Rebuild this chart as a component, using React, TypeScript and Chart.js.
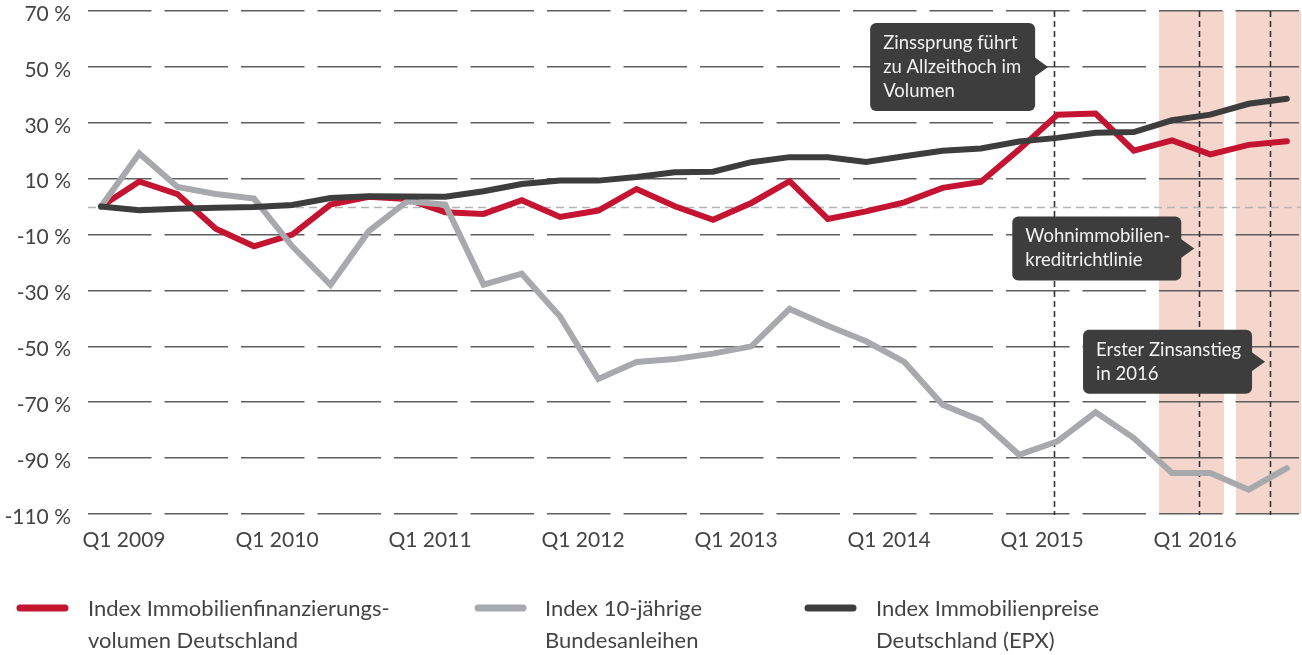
import React, { useEffect, useRef } from "react";
import { Chart, registerables } from "chart.js";

Chart.register(...registerables);

const quarters = [
  "Q1 2009", "Q2 2009", "Q3 2009", "Q4 2009",
  "Q1 2010", "Q2 2010", "Q3 2010", "Q4 2010",
  "Q1 2011", "Q2 2011", "Q3 2011", "Q4 2011",
  "Q1 2012", "Q2 2012", "Q3 2012", "Q4 2012",
  "Q1 2013", "Q2 2013", "Q3 2013", "Q4 2013",
  "Q1 2014", "Q2 2014", "Q3 2014", "Q4 2014",
  "Q1 2015", "Q2 2015", "Q3 2015", "Q4 2015",
  "Q1 2016", "Q2 2016", "Q3 2016", "Q4 2016",
];

const volumeIndex = [
  0, 9, 4.5, -7.9, -14.2, -10, 0.7, 3.5, 2.7, -2, -2.6, 2.3, -3.7, -1.4, 6.3, 0.1,
  -4.7, 1.3, 9.1, -4.4, -1.7, 1.5, 6.7, 8.8, 20.4, 32.9, 33.3, 20, 23.7, 18.7, 22.1, 23.4,
];
const bondIndex = [
  0, 19, 7, 4.5, 2.9, -14.2, -28, -8.8, 1.9, 0.7, -27.9, -24, -39.3, -61.7, -55.6, -54.5,
  -52.6, -50, -36.6, -42.6, -48.2, -55.6, -70.9, -76.5, -88.8, -84, -73.6, -82.8, -95.3, -95.3, -101.3, -93.6,
];
const priceIndex = [
  0, -1.3, -0.8, -0.4, -0.1, 0.6, 3.1, 3.7, 3.6, 3.5, 5.5, 8.1, 9.3, 9.3, 10.6, 12.3,
  12.5, 15.9, 17.7, 17.7, 16, 18, 20, 20.8, 23.3, 24.6, 26.4, 26.7, 30.9, 32.9, 36.8, 38.6,
];

const xTickLabels = ["Q1 2009", "Q1 2010", "Q1 2011", "Q1 2012", "Q1 2013", "Q1 2014", "Q1 2015", "Q1 2016"];
const yTickValues = [70, 50, 30, 10, -10, -30, -50, -70, -90, -110];

const seriesNames = [
  ["Index Immobilienfinanzierungs-", "volumen Deutschland"],
  ["Index 10-jährige", "Bundesanleihen"],
  ["Index Immobilienpreise", "Deutschland (EPX)"],
];
const seriesColors = ["#c51431", "#a8a9ac", "#3d3d3d"];

// event markers (x in quarter index units)
const markerLines = [24.92, 28.71, 30.56];
const highlightBands = [
  [27.66, 29.36],
  [29.67, 31.37],
];
const callouts = [
  { lines: ["Zinssprung führt", "zu Allzeithoch im", "Volumen"], tipX: 24.76, tipY: 50, width: 165 },
  { lines: ["Wohnimmobilien-", "kreditrichtlinie"], tipX: 28.58, tipY: -15, width: 169 },
  { lines: ["Erster Zinsanstieg", "in 2016"], tipX: 30.43, tipY: -55.5, width: 169 },
];

const FONT = "Lato";
const TEXT_COLOR = "#444444";

const decorPlugin = {
  id: "decor",
  beforeDraw(chart: any) {
    const { ctx, chartArea, scales } = chart;
    const xs = scales.x;
    ctx.save();
    ctx.fillStyle = "#f5d6cc";
    for (const [a, b] of highlightBands) {
      const x1 = xs.getPixelForValue(a);
      const x2 = Math.min(xs.getPixelForValue(b), chartArea.right);
      ctx.fillRect(x1, chartArea.top, x2 - x1, chartArea.bottom - chartArea.top);
    }
    ctx.restore();
  },
  beforeDatasetsDraw(chart: any) {
    const { ctx, chartArea, scales } = chart;
    const xs = scales.x;
    const ys = scales.y;
    ctx.save();
    ctx.strokeStyle = "#b3b3b3";
    ctx.lineWidth = 1.5;
    ctx.setLineDash([8, 5]);
    const y0 = Math.round(ys.getPixelForValue(0)) + 0.5;
    ctx.beginPath();
    ctx.moveTo(chartArea.left, y0);
    ctx.lineTo(chartArea.right, y0);
    ctx.stroke();
    ctx.strokeStyle = "#333333";
    ctx.lineWidth = 1.6;
    ctx.setLineDash([6, 4]);
    for (const m of markerLines) {
      const x = Math.round(xs.getPixelForValue(m)) + 0.5;
      ctx.beginPath();
      ctx.moveTo(x, chartArea.top);
      ctx.lineTo(x, chartArea.bottom + 1);
      ctx.stroke();
    }
    ctx.restore();
  },
  afterDatasetsDraw(chart: any) {
    const { ctx, scales } = chart;
    const xs = scales.x;
    const ys = scales.y;
    ctx.save();
    ctx.font = `18.5px ${FONT}`;
    ctx.textBaseline = "middle";
    ctx.textAlign = "left";
    for (const c of callouts) {
      const tipX = xs.getPixelForValue(c.tipX);
      const tipY = ys.getPixelForValue(c.tipY);
      const lineH = 24;
      const h = 19 * 2 + (c.lines.length - 1) * lineH + 2;
      const right = tipX - 13;
      const left = right - c.width;
      const top = tipY - h / 2;
      ctx.fillStyle = "#3d3d3d";
      ctx.beginPath();
      ctx.roundRect(left, top, c.width, h, 6);
      ctx.fill();
      ctx.beginPath();
      ctx.moveTo(right - 1, tipY - 10);
      ctx.lineTo(tipX, tipY);
      ctx.lineTo(right - 1, tipY + 10);
      ctx.closePath();
      ctx.fill();
      ctx.fillStyle = "#f2f2f2";
      c.lines.forEach((t, i) => {
        ctx.fillText(t, left + 13, top + 20 + i * lineH);
      });
    }
    ctx.restore();
  },
  afterDraw(chart: any) {
    const { ctx } = chart;
    const sampleX = [20, 478, 808];
    const textX = [88, 545, 876];
    ctx.save();
    ctx.font = `22px ${FONT}`;
    ctx.textBaseline = "middle";
    ctx.textAlign = "left";
    seriesNames.forEach((lines, i) => {
      ctx.strokeStyle = seriesColors[i];
      ctx.lineWidth = 7;
      ctx.lineCap = "round";
      ctx.beginPath();
      ctx.moveTo(sampleX[i], 608);
      ctx.lineTo(sampleX[i] + 45, 608);
      ctx.stroke();
      ctx.fillStyle = TEXT_COLOR;
      lines.forEach((t, j) => ctx.fillText(t, textX[i], 609 + j * 32));
    });
    ctx.restore();
  },
};

export default function App() {
  const ref = useRef<HTMLCanvasElement | null>(null);
  useEffect(() => {
    if (!ref.current) return;
    const mk = (data: number[], i: number) => ({
      label: seriesNames[i].join(" "),
      data: data.map((v, k) => ({ x: k, y: v })),
      borderColor: seriesColors[i],
      backgroundColor: seriesColors[i],
      borderWidth: 6,
      pointRadius: 0,
      tension: 0,
      borderCapStyle: "round" as const,
      borderJoinStyle: "miter" as const,
      fill: false,
    });
    const chart = new Chart(ref.current, {
      type: "line",
      data: {
        labels: quarters,
        datasets: [mk(volumeIndex, 0), mk(bondIndex, 1), mk(priceIndex, 2)].map((d, i) => ({ ...d, order: 3 - i })),
      },
      options: {
        animation: false,
        responsive: false,
        layout: { padding: { left: 0, right: 1, top: 11, bottom: 0 } },
        plugins: { legend: { display: false }, tooltip: { enabled: false } },
        scales: {
          x: {
            type: "linear",
            min: -0.34,
            max: 31.37,
            afterBuildTicks: (s: any) => {
              s.ticks = xTickLabels.map((_, i) => ({ value: i * 4 }));
            },
            afterFit: (s: any) => {
              s.height = 141;
              s.paddingLeft = 0;
              s.paddingRight = 0;
            },
            grid: { display: false, drawTicks: false },
            border: { display: false },
            ticks: {
              autoSkip: false,
              maxRotation: 0,
              padding: 14,
              labelOffset: 23,
              color: TEXT_COLOR,
              font: { family: FONT, size: 21 },
              callback: (v: any) => xTickLabels[Math.round(Number(v) / 4)] ?? "",
            },
          },
          y: {
            min: -110,
            max: 70,
            afterBuildTicks: (s: any) => {
              s.ticks = yTickValues.map((v) => ({ value: v }));
            },
            afterFit: (s: any) => {
              s.width = 88;
              s.paddingTop = 0;
              s.paddingBottom = 0;
            },
            grid: { color: "#5f5f5f", lineWidth: 1.5, drawTicks: false },
            border: { display: false, dash: [63.5, 13], dashOffset: 0 },
            ticks: {
              padding: 17,
              labelOffset: 3,
              color: TEXT_COLOR,
              font: { family: FONT, size: 21 },
              callback: (v: any) => `${v} %`,
            },
          },
        },
      },
      plugins: [decorPlugin],
    });
    return () => chart.destroy();
  }, []);
  return (
    <div style={{ position: "fixed", left: 0, top: 0, width: 1302, height: 655, background: "#fff" }}>
      <canvas ref={ref} width={1302} height={655} />
    </div>
  );
}
